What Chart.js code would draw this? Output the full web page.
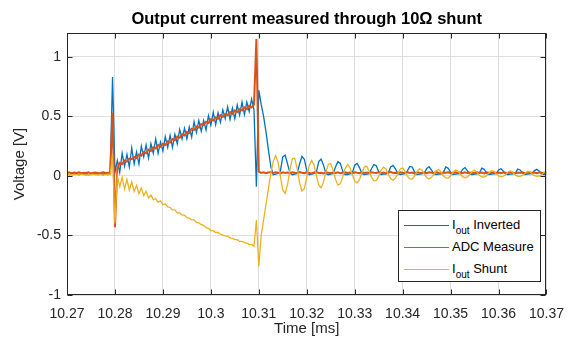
<!DOCTYPE html>
<html>
<head>
<meta charset="utf-8">
<script src="https://cdn.jsdelivr.net/npm/chart.js@4.4.1/dist/chart.umd.min.js"></script>
<style>
  html, body { margin: 0; padding: 0; background: #fff; }
  #wrap { position: relative; width: 575px; height: 338px; }
  #legend {
    position: absolute; left: 398px; top: 210px; width: 143px; height: 72px;
    box-sizing: border-box; border: 1px solid #262626; background: #fff;
    font-family: "Liberation Sans", Arial, Helvetica, sans-serif; font-size: 13px; color: #000;
  }
  .row { position: absolute; left: 0; height: 20px; width: 100%; }
  .swatch { position: absolute; left: 5px; width: 45px; height: 0; top: 10px; border-top: 1px solid; }
  .lbl { position: absolute; left: 53px; top: 2px; white-space: nowrap; line-height: 15px; }
  .lbl sub { font-size: 10px; vertical-align: -5px; line-height: 0; }
</style>
</head>
<body>
<div id="wrap">
  <canvas id="c" width="575" height="338"></canvas>
  <div id="legend"></div>
</div>
<script>
// ---- data ----
const timeStart = 10.27;       // ms
const timeStep = 0.0005;       // ms per sample

const ioutInverted = [
  0.02,0.01,0.025,0.015,0.02,0.01,0.025,0.015,0.02,0.01,0.02,0.015,0.025,0.01,0.02,0.015,0.02,0.01,0.02,
  0.83,
  0.03,
  0.13,0.03,0.19,0.08,0.18,0.075,0.235,0.10,0.20,0.10,
  0.25,0.16,0.26,0.15,0.27,0.19,0.31,0.19,0.285,0.21,
  0.33,0.24,0.34,0.24,0.35,0.27,0.39,0.31,0.40,0.31,
  0.41,0.325,0.455,0.365,0.465,0.375,0.465,0.385,0.505,0.425,
  0.535,0.43,0.53,0.45,0.555,0.48,0.58,0.475,0.57,0.48,
  0.595,0.51,0.62,0.515,0.62,0.54,0.645,0.555,
  -0.09,
  0.72,
  0.60,0.50,0.37,0.22,0.08,0.01,
  0.015,0.02,0.04,0.16,0.175,0.10,0.025,0.01,0.015,0.02,
  0.10,0.165,0.14,0.045,0.01,0.015,0.02,0.03,0.12,0.14,
  0.09,0.02,0.01,0.015,0.02,0.075,0.12,0.105,0.04,0.012,
  0.012,0.018,0.025,0.09,0.105,0.07,0.02,0.012,0.015,0.018,
  0.06,0.095,0.085,0.035,0.012,0.015,0.018,0.025,0.075,0.088,
  0.06,0.02,0.012,0.015,0.018,0.045,0.08,0.075,0.03,0.012,
  0.015,0.018,0.022,0.06,0.078,0.05,0.018,0.012,0.015,0.018,
  0.03,0.075,0.065,0.03,0.012,0.015,0.018,0.02,0.055,0.07,
  0.045,0.015,0.012,0.015,0.018,0.025,0.065,0.055,0.025,0.012,
  0.015,0.018,0.02,0.05,0.06,0.04,0.015,0.012,0.015,0.018,
  0.022,0.058,0.05,0.025,0.012,0.015,0.018,0.02,0.045,0.055,
  0.04,0.015,0.012,0.015
];

const adcMeasure = [
  0.025,0.03,0.02,0.028,0.025,0.03,0.022,0.027,0.025,0.03,0.02,0.026,0.028,0.022,0.025,0.03,0.024,0.027,0.025,
  0.53,
  -0.43,
  0.06,0.11,0.10,0.13,0.12,0.145,0.14,0.16,0.15,0.18,
  0.17,0.20,0.19,0.22,0.21,0.24,0.23,0.26,0.245,0.27,
  0.26,0.29,0.28,0.31,0.30,0.33,0.32,0.35,0.34,0.37,
  0.36,0.395,0.385,0.415,0.405,0.435,0.425,0.455,0.445,0.475,
  0.465,0.49,0.48,0.51,0.495,0.52,0.51,0.535,0.52,0.55,
  0.535,0.56,0.55,0.575,0.56,0.59,0.575,0.60,
  1.15,
  0.035,0.025,0.03,0.022,0.028,0.032,0.024,0.03,0.026,0.02,
  0.03,0.025,0.028,0.022,0.03,0.026,0.024,0.032,0.027,0.022,
  0.03,0.025,0.02,0.028,0.033,0.024,0.027,0.021,0.03,0.026,
  0.023,0.029,0.025,0.031,0.022,0.027,0.03,0.024,0.028,0.021,
  0.03,0.026,0.023,0.032,0.025,0.028,0.022,0.03,0.026,0.024,
  0.031,0.025,0.028,0.021,0.029,0.034,0.024,0.027,0.022,0.03,
  0.026,0.023,0.03,0.025,0.028,0.02,0.031,0.026,0.024,0.029,
  0.022,0.03,0.027,0.024,0.032,0.025,0.021,0.028,0.026,0.03,
  0.023,0.027,0.031,0.024,0.028,0.022,0.03,0.025,0.029,0.023,
  0.027,0.033,0.024,0.028,0.021,0.03,0.026,0.024,0.031,0.025,
  0.028,0.022,0.03,0.026,0.024,0.032,0.027,0.022,0.029,0.025,
  0.03,0.023,0.027,0.031,0.024,0.028,0.022,0.03,0.026,0.025,
  0.028
];

const ioutShunt = [
  0.01,0.015,0.005,0.012,0.01,0.008,0.015,0.01,0.005,0.012,0.01,0.015,0.008,0.01,0.012,0.005,0.01,0.015,0.01,
  0.18,
  -0.40,
  0.0,-0.09,-0.01,-0.11,-0.03,-0.12,-0.05,-0.13,-0.08,-0.15,
  -0.10,-0.165,-0.13,-0.185,-0.16,-0.20,-0.19,-0.22,-0.21,-0.24,
  -0.235,-0.26,-0.265,-0.285,-0.285,-0.31,-0.31,-0.33,-0.33,-0.35,
  -0.355,-0.37,-0.37,-0.39,-0.395,-0.41,-0.415,-0.435,-0.44,-0.46,
  -0.46,-0.475,-0.475,-0.49,-0.495,-0.505,-0.505,-0.52,-0.525,-0.535,
  -0.535,-0.55,-0.55,-0.56,-0.565,-0.575,-0.575,
  -0.59,
  -0.37,
  -0.76,
  -0.50,-0.37,-0.24,-0.11,0.02,0.12,
  0.17,0.12,-0.006,-0.118,-0.147,-0.072,0.054,0.146,0.149,0.061,
  -0.056,-0.126,-0.106,-0.011,0.086,0.13,0.095,0.005,-0.075,-0.099,
  -0.051,0.034,0.098,0.104,0.049,-0.028,-0.076,-0.067,-0.008,0.06,
  0.095,0.073,0.01,-0.042,-0.06,-0.032,0.025,0.074,0.082,0.042,
  -0.011,-0.042,-0.039,-0.004,0.046,0.074,0.06,0.013,-0.022,-0.035,
  -0.019,0.018,0.058,0.066,0.038,-0.003,-0.027,-0.026,-0.002,0.035,
  0.059,0.05,0.015,-0.013,-0.025,-0.014,0.014,0.045,0.054,0.033,
  0.001,-0.017,-0.018,0.0,0.029,0.049,0.043,0.016,-0.006,-0.015,
  -0.008,0.012,0.039,0.047,0.031,0.005,-0.008,-0.009,0.002,0.025,
  0.043,0.04,0.017,-0.001,-0.008,-0.003,0.01,0.034,0.042,0.029,
  0.007,-0.003,-0.004,0.004,0.021,0.038,0.037,0.017,0.002,-0.003,
  -0.001,0.009,0.03,0.038
];

const xTicks = [10.27,10.28,10.29,10.30,10.31,10.32,10.33,10.34,10.35,10.36,10.37];
const xTickLabels = ['10.27','10.28','10.29','10.3','10.31','10.32','10.33','10.34','10.35','10.36','10.37'];
const yTicks = [-1,-0.5,0,0.5,1];
const yTickLabels = ['-1','-0.5','0','0.5','1'];

const seriesNames = ['Inverted','ADC Measure','Shunt'];
const seriesColors = ['#0072BD','#D95319','#EDB120'];
const seriesWidths = [1.3, 2, 1.3];

// sampling grid of the scope capture
const time = ioutInverted.map((_, i) => +(timeStart + i * timeStep).toFixed(4));
const pts = arr => time.map((t, i) => ({ x: t, y: arr[i] }));

const FONT = '"Liberation Sans", Arial, Helvetica, sans-serif';
const AX = '#262626';

const framePlugin = {
  id: 'frame',
  afterDatasetsDraw(chart) {
    const { ctx, chartArea: a, scales: { x, y } } = chart;
    ctx.save();
    ctx.strokeStyle = AX; ctx.lineWidth = 1;
    const L = Math.round(a.left) + 0.5, R = Math.round(a.right) - 0.5;
    const T = Math.round(a.top) + 0.5, B = Math.round(a.bottom) - 0.5;
    ctx.beginPath();
    xTicks.forEach(v => {
      const px = Math.round(x.getPixelForValue(v)) + 0.5;
      ctx.moveTo(px, B); ctx.lineTo(px, B - 5);
      ctx.moveTo(px, T); ctx.lineTo(px, T + 5);
    });
    yTicks.forEach(v => {
      const py = Math.round(y.getPixelForValue(v)) + 0.5;
      ctx.moveTo(L, py); ctx.lineTo(L + 5, py);
      ctx.moveTo(R, py); ctx.lineTo(R - 5, py);
    });
    ctx.stroke();
    ctx.strokeRect(L, T, R - L, B - T);
    ctx.restore();
  }
};

const ds = (label, arr, i, order) => ({
  label, data: pts(arr), borderColor: seriesColors[i], backgroundColor: seriesColors[i],
  borderWidth: seriesWidths[i], pointRadius: 0, tension: 0, fill: false, order
});

new Chart(document.getElementById('c'), {
  type: 'line',
  data: {
    datasets: [
      ds('Iout Inverted', ioutInverted, 0, 3),
      ds('ADC Measure', adcMeasure, 1, 2),
      ds('Iout Shunt', ioutShunt, 2, 1)
    ]
  },
  options: {
    responsive: false, animation: false, devicePixelRatio: 1,
    layout: { padding: { left: 0, right: 22, top: 0, bottom: 0 } },
    plugins: {
      legend: { display: false },
      tooltip: { enabled: false },
      title: {
        display: true, fullSize: false,
        text: 'Output current measured through 10Ω shunt',
        color: '#000', font: { family: FONT, size: 16.5, weight: 'bold', lineHeight: 1.2 },
        padding: { top: 10, bottom: 3.2 }
      }
    },
    scales: {
      x: {
        type: 'linear', min: 10.27, max: 10.37,
        afterBuildTicks: s => { s.ticks = xTicks.map(v => ({ value: v })); },
        afterFit: s => { s.height = 43; },
        ticks: {
          callback: (v, i) => xTickLabels[i], autoSkip: false, maxRotation: 0,
          color: AX, font: { family: FONT, size: 14 }, padding: 11
        },
        grid: { color: '#dfdfdf', drawTicks: false, lineWidth: 1 },
        border: { display: false },
        title: { display: true, text: 'Time [ms]', color: AX, font: { family: FONT, size: 15 }, padding: { top: 0, bottom: 0 } }
      },
      y: {
        type: 'linear', min: -1, max: 1.2,
        afterBuildTicks: s => { s.ticks = yTicks.map(v => ({ value: v })); },
        afterFit: s => { s.width = 67; },
        ticks: {
          callback: (v, i) => yTickLabels[i], autoSkip: false,
          color: AX, font: { family: FONT, size: 14 }, padding: 6
        },
        grid: { color: '#dfdfdf', drawTicks: false, lineWidth: 1 },
        border: { display: false },
        title: { display: true, text: 'Voltage [V]', color: AX, font: { family: FONT, size: 15 }, padding: { top: 11, bottom: 0 } }
      }
    }
  },
  plugins: [framePlugin]
});

// legend (HTML so the subscripts stay real text)
const legendLabels = ['I<sub>out</sub> ' + seriesNames[0], seriesNames[1], 'I<sub>out</sub> ' + seriesNames[2]];
const lg = document.getElementById('legend');
const rowTops = [4, 26, 48];
legendLabels.forEach((txt, i) => {
  const row = document.createElement('div');
  row.className = 'row'; row.style.top = rowTops[i] + 'px';
  row.innerHTML = '<div class="swatch" style="border-color:' + seriesColors[i] + '"></div><div class="lbl">' + txt + '</div>';
  lg.appendChild(row);
});
</script>
</body>
</html>
